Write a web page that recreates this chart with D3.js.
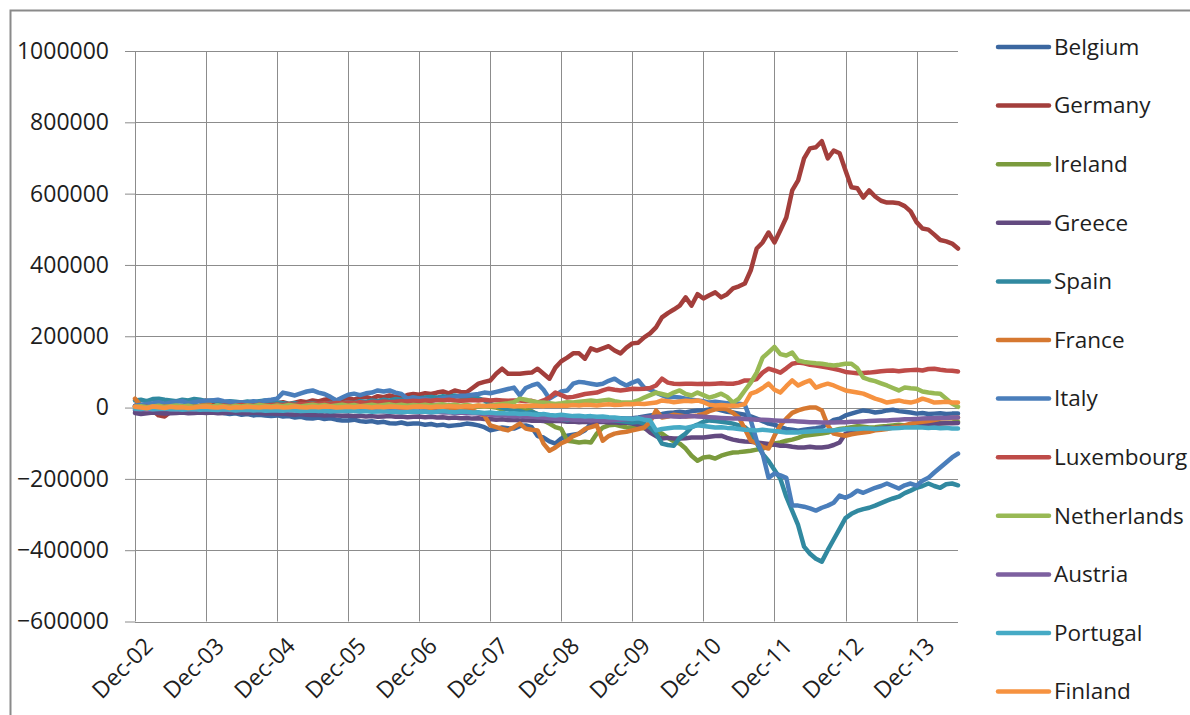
<!DOCTYPE html>
<html lang="en">
<head>
<meta charset="UTF-8">
<title>TARGET2 balances</title>
<script src="https://d3js.org/d3.v7.min.js"></script>
<style>
  body { margin: 0; background: #fff; }
  svg text { font-family: "Open Sans", sans-serif; fill: #1e1e1e; }
</style>
</head>
<body>
<svg width="1190" height="715"></svg>
<script>
// monthly balances, Dec-02 .. Jul-14, in thousands (x1000 when drawn)
const belgium = [
  -8, -10, -8, -5, -8, -10, -7, -6, -8, -10, -12, -10,
  -12, -14, -12, -15, -18, -16, -20, -18, -22, -20, -22, -24,
  -22, -25, -24, -28, -26, -30, -31, -28, -32, -30, -34, -36,
  -36, -34, -38, -40, -38, -42, -40, -44, -45, -42, -46, -45,
  -45, -48, -46, -50, -48, -52, -50, -48, -45, -47, -50, -55,
  -64, -60, -56, -58, -59, -52, -50, -55, -80, -84, -95, -101,
  -87, -79, -76, -73, -64, -45, -40, -36, -33, -31, -30, -31,
  -30, -28, -25, -22, -20, -18, -15, -14, -12, -14, -10, -8,
  -8, -5, -3, -8, -12, -14, -17, -20, -25, -31, -38, -45,
  -48, -55, -60, -62, -65, -62, -60, -58, -55, -45, -35, -31,
  -22, -17, -12, -8, -10, -14, -12, -8, -6, -10, -12, -14,
  -17, -15, -18, -17, -16, -18, -17, -17
];
const germany = [
  5, 0, 3, -8, -22, -25, -12, -2, 4, 2, 6, 3,
  5, 8, 4, 6, 10, 7, 5, 9, 12, 8, 10, 13,
  12, 15, 10, 14, 18, 15, 20, 17, 22, 25, 20, 24,
  26, 22, 28, 30, 25, 32, 29, 34, 30, 28, 35, 38,
  36, 40, 38, 42, 45, 40, 48, 44, 43, 55, 67, 72,
  76, 95, 109, 95, 95, 95, 97, 98, 109, 95, 81, 112,
  130, 140, 152, 152, 137, 166, 160, 166, 172, 160, 152, 168,
  180, 182, 197, 208, 225, 253, 265, 275, 286, 309, 286, 318,
  306, 315, 323, 309, 318, 334, 340, 348, 385, 446, 463, 491,
  463, 497, 533, 609, 637, 699, 727, 730, 747, 699, 721, 713,
  665, 618, 615, 589, 609, 592, 580, 575, 575, 573, 565, 550,
  520, 502, 499, 485, 470, 466, 460, 446
];
const ireland = [
  2, 5, 3, 0, 2, 4, 1, 3, 5, 2, 0, 3,
  5, 3, 2, 4, 6, 3, 5, 2, 4, 6, 3, 5,
  4, 6, 3, 5, 7, 4, 6, 5, 3, 6, 8, 5,
  6, 4, 7, 5, 8, 6, 4, 7, 5, 8, 6, 9,
  7, 5, 8, 6, 4, 7, 5, 3, 6, 4, 2, 5,
  2, 0, -5, -3, -2, 2, -5, -10, -22, -36, -45, -55,
  -60, -93, -95, -98, -96, -98, -73, -56, -50, -48, -52, -55,
  -56, -56, -58, -62, -66, -73, -85, -95, -101, -115, -135, -149,
  -140, -138, -143, -135, -130, -126, -125, -123, -121, -118, -115, -108,
  -101, -98, -93, -90, -85, -79, -77, -75, -73, -70, -64, -60,
  -58, -55, -52, -54, -56, -55, -53, -52, -50, -48, -50, -49,
  -48, -47, -46, -45, -44, -43, -42, -40
];
const greece = [
  -15, -18, -16, -14, -15, -17, -16, -15, -14, -16, -15, -14,
  -15, -14, -16, -15, -13, -14, -15, -16, -14, -15, -17, -16,
  -18, -17, -19, -20, -18, -20, -21, -20, -22, -21, -22, -23,
  -22, -24, -23, -25, -24, -26, -25, -24, -26, -25, -27, -26,
  -25, -27, -26, -28, -27, -29, -28, -30, -29, -31, -30, -32,
  -32, -34, -33, -35, -34, -36, -35, -37, -36, -38, -37, -38,
  -38, -40, -39, -41, -40, -42, -41, -40, -42, -41, -43, -42,
  -45, -48, -56, -70, -80, -87, -85, -87, -87, -86, -84, -84,
  -84, -82, -80, -79, -85, -90, -93, -95, -96, -98, -100, -102,
  -104, -107, -107, -110, -112, -112, -110, -112, -112, -110, -105, -98,
  -73, -70, -68, -65, -63, -60, -58, -56, -55, -53, -52, -50,
  -50, -48, -47, -46, -45, -44, -44, -43
];
const spain = [
  20, 22, 18, 24, 25, 22, 20, 18, 22, 20, 24, 22,
  18, 20, 17, 15, 18, 16, 14, 17, 15, 18, 20, 16,
  14, 12, 10, 12, 8, 10, 12, 9, 11, 13, 10, 12,
  15, 13, 18, 16, 20, 18, 22, 20, 24, 22, 25, 28,
  26, 28, 30, 28, 32, 30, 34, 30, 28, 30, 26, 20,
  10, 5, 0, -5, -8, -10, -15, -12, -18, -20, -25, -30,
  -32, -35, -30, -28, -33, -35, -30, -32, -34, -36, -38, -40,
  -42, -40, -45, -56, -73, -101, -105, -107, -85, -73, -55, -48,
  -40, -36, -38, -40, -42, -45, -50, -55, -70, -100, -130, -150,
  -175, -200, -250, -290, -330, -390, -410, -424, -432, -400, -370, -340,
  -310, -298, -290, -285, -281, -275, -268, -261, -255, -250, -240, -233,
  -225, -220, -213, -220, -225, -215, -213, -218
];
const france = [
  25, 5, 2, -3, 0, 4, -2, 0, 3, -1, 2, 5,
  20, 3, 0, -2, 2, 0, -3, 1, 0, 2, -1, 3,
  8, 2, 0, -2, 1, 3, 0, -2, 1, 0, 2, 0,
  4, 0, -2, 1, 0, -3, -1, 2, 0, -2, 1, 0,
  2, -1, 0, -3, -2, 0, -4, -2, -5, -8, -15, -22,
  -50, -55, -60, -64, -55, -45, -59, -62, -64, -101, -121, -112,
  -100, -93, -80, -73, -60, -55, -50, -93, -80, -73, -70, -68,
  -64, -60, -56, -40, -8, -28, -25, -20, -22, -25, -24, -22,
  -18, -10, -5, -3, -5, -15, -28, -60, -93, -100, -110, -115,
  -79, -50, -31, -15, -8, -3, 0, 0, -8, -50, -73, -76,
  -79, -75, -72, -70, -68, -64, -62, -60, -56, -54, -50, -45,
  -42, -40, -38, -35, -31, -30, -29, -28
];
const italy = [
  5, 8, 10, 12, 15, 10, 14, 16, 18, 12, 15, 18,
  20, 20, 22, 18, 16, 14, 15, 14, 18, 15, 20, 22,
  25, 42, 38, 34, 40, 45, 48, 42, 38, 30, 20, 28,
  36, 39, 35, 40, 42, 48, 45, 48, 42, 38, 25, 28,
  25, 24, 20, 22, 26, 28, 30, 33, 34, 36, 38, 42,
  40, 44, 48, 52, 56, 34, 55, 62, 67, 50, 25, 35,
  45, 48, 67, 72, 70, 67, 64, 67, 75, 81, 70, 62,
  70, 76, 56, 50, 42, 35, 28, 30, 28, 25, 22, 20,
  18, 14, 16, 14, 12, 10, 11, 8, -36, -93, -129, -197,
  -185, -190, -197, -275, -275, -278, -283, -289, -281, -275, -267, -247,
  -253, -245, -233, -239, -232, -225, -220, -213, -220, -227, -218, -213,
  -219, -205, -197, -182, -168, -154, -140, -129
];
const luxembourg = [
  3, 0, 2, -2, 0, 3, 2, 0, 1, 3, 2, 4,
  5, 3, 4, 6, 4, 5, 7, 6, 5, 8, 6, 7,
  8, 7, 9, 8, 10, 9, 11, 10, 12, 11, 13, 12,
  14, 12, 15, 13, 16, 14, 17, 15, 16, 18, 17, 19,
  18, 20, 19, 21, 20, 22, 20, 19, 20, 21, 20, 22,
  20, 21, 20, 19, 20, 20, 18, 19, 14, 20, 28, 42,
  35, 28, 30, 34, 38, 40, 42, 48, 53, 50, 48, 50,
  53, 52, 53, 55, 62, 81, 70, 67, 66, 67, 67, 66,
  67, 66, 67, 68, 67, 67, 70, 76, 76, 80, 98, 109,
  104, 98, 110, 123, 126, 124, 120, 118, 115, 112, 109, 105,
  100, 98, 96, 97, 98, 100, 102, 103, 104, 102, 104, 105,
  106, 104, 108, 109, 106, 104, 103, 101
];
const netherlands = [
  2, 4, 1, 3, 5, 2, 4, 6, 3, 5, 2, 4,
  5, 3, 6, 4, 2, 5, 3, 6, 4, 7, 5, 3,
  6, 4, 7, 5, 3, 6, 8, 5, 7, 4, 6, 8,
  5, 7, 4, 6, 8, 5, 7, 9, 6, 8, 5, 7,
  6, 8, 5, 7, 9, 6, 8, 5, 7, 4, 6, 3,
  5, 8, 10, 12, 15, 25, 22, 18, 15, 14, 12, 10,
  12, 15, 14, 16, 18, 20, 18, 20, 22, 18, 15, 14,
  15, 20, 28, 35, 42, 38, 34, 42, 48, 38, 34, 42,
  35, 28, 33, 39, 30, 14, 25, 48, 70, 98, 140, 155,
  170, 150, 146, 154, 132, 128, 126, 124, 123, 120, 118, 120,
  123, 123, 110, 84, 78, 74, 68, 62, 55, 48, 56, 54,
  53, 45, 42, 40, 39, 25, 11, 2
];
const austria = [
  -5, -4, -6, -5, -3, -4, -5, -6, -4, -5, -6, -5,
  -6, -5, -4, -6, -7, -5, -6, -7, -6, -5, -7, -6,
  -7, -6, -8, -7, -6, -8, -7, -9, -8, -7, -9, -8,
  -9, -8, -10, -9, -8, -10, -11, -10, -9, -11, -10, -12,
  -11, -12, -13, -12, -14, -13, -15, -14, -16, -15, -17, -18,
  -20, -22, -21, -23, -25, -24, -26, -25, -27, -28, -30, -32,
  -33, -32, -34, -35, -34, -36, -35, -37, -36, -35, -34, -33,
  -32, -30, -28, -27, -26, -25, -24, -25, -26, -25, -24, -25,
  -26, -27, -28, -29, -30, -31, -31, -32, -33, -34, -34, -35,
  -36, -37, -38, -38, -39, -40, -41, -41, -42, -42, -42, -41,
  -41, -40, -40, -39, -38, -37, -36, -36, -35, -34, -33, -33,
  -32, -31, -30, -30, -29, -29, -28, -28
];
const portugal = [
  -3, -4, -2, -5, -4, -3, -5, -4, -6, -5, -4, -6,
  -5, -6, -7, -5, -6, -8, -7, -6, -8, -7, -9, -8,
  -8, -9, -7, -8, -10, -9, -8, -10, -9, -11, -10, -9,
  -10, -9, -11, -10, -12, -11, -10, -12, -11, -13, -12, -11,
  -12, -11, -13, -12, -10, -12, -13, -11, -12, -14, -13, -15,
  -14, -16, -15, -17, -16, -18, -17, -19, -20, -18, -21, -22,
  -20, -22, -24, -23, -25, -24, -26, -25, -27, -28, -30, -31,
  -32, -30, -34, -36, -64, -60, -58, -56, -55, -57, -54, -50,
  -52, -54, -56, -55, -57, -58, -60, -62, -63, -64, -62, -64,
  -66, -68, -70, -69, -70, -68, -67, -66, -65, -64, -64, -62,
  -61, -60, -60, -59, -59, -60, -59, -59, -58, -57, -56, -56,
  -55, -56, -57, -56, -58, -57, -59, -59
];
const finland = [
  2, 0, -2, 3, 1, -1, 2, 0, 1, -1, 0, 2,
  3, 1, 0, 2, -1, 1, 0, 2, 1, 0, 2, 1,
  2, 0, 1, 3, 1, 0, 2, 1, 3, 2, 0, 1,
  2, 1, 3, 2, 0, 2, 1, 3, 2, 1, 0, 2,
  3, 2, 1, 3, 2, 4, 3, 2, 4, 3, 5, 4,
  5, 4, 6, 5, 3, 5, 4, 6, 5, 4, 6, 5,
  6, 5, 7, 6, 8, 7, 6, 8, 9, 7, 8, 10,
  9, 11, 10, 12, 14, 20, 18, 15, 17, 19, 18, 20,
  15, 8, 6, 7, 6, 5, 6, 10, 39, 45, 55, 67,
  50, 42, 60, 76, 62, 70, 76, 56, 62, 67, 62, 55,
  48, 45, 42, 39, 32, 25, 20, 14, 17, 20, 16, 14,
  18, 25, 20, 14, 15, 16, 14, 14
];

const countries = ["Belgium", "Germany", "Ireland", "Greece", "Spain", "France",
                   "Italy", "Luxembourg", "Netherlands", "Austria", "Portugal", "Finland"];
const seriesValues = [belgium, germany, ireland, greece, spain, france,
                      italy, luxembourg, netherlands, austria, portugal, finland];
const colors = ["#3b67a0", "#a33e3b", "#7b9b3d", "#634a80", "#3189a0", "#d67830",
                "#4a7ebb", "#be4b48", "#98b954", "#7d60a0", "#46aac5", "#f69240"];
const yTicks = [-600000, -400000, -200000, 0, 200000, 400000, 600000, 800000, 1000000];
const UNIT = 1000;

// months Dec-02 .. Jul-14
const months = d3.timeMonth.range(new Date(2002, 11, 1), new Date(2014, 7, 1));
const fmtMonth = d3.timeFormat("%b-%y");
const xTickMonths = months.filter(d => d.getMonth() === 11);

const svg = d3.select("svg");

// chart area border
svg.append("rect")
    .attr("x", 10.5).attr("y", 10.5)
    .attr("width", 1200).attr("height", 720)
    .attr("fill", "none")
    .attr("stroke", "#8a8a8a")
    .attr("stroke-width", 2);

const x = d3.scalePoint().domain(months.map(fmtMonth)).range([135, 958]);
const y = d3.scaleLinear().domain([-600000, 1000000]).range([621.5, 51]);

// left axis (ticks + labels)
svg.append("g")
    .attr("transform", "translate(135,0)")
    .call(d3.axisLeft(y).tickValues(yTicks).tickSize(10).tickPadding(16).tickFormat(d3.format("d")))
    .call(g => g.select(".domain").remove())
    .call(g => g.selectAll(".tick line").attr("stroke", "#8c8c8c"))
    .call(g => g.selectAll(".tick text")
        .attr("font-family", "Open Sans").attr("font-size", 23).attr("fill", "#1e1e1e"));

// horizontal grid
svg.append("g")
    .selectAll("line")
    .data(yTicks)
    .join("line")
    .attr("x1", 135).attr("x2", 958)
    .attr("y1", d => Math.round(y(d)) + 0.5).attr("y2", d => Math.round(y(d)) + 0.5)
    .attr("stroke", "#8c8c8c");

// vertical grid at each December
svg.append("g")
    .selectAll("line")
    .data(xTickMonths)
    .join("line")
    .attr("x1", d => Math.round(x(fmtMonth(d))) + 0.5)
    .attr("x2", d => Math.round(x(fmtMonth(d))) + 0.5)
    .attr("y1", y(1000000)).attr("y2", y(-600000))
    .attr("stroke", "#8c8c8c");

// x labels
svg.append("g")
    .selectAll("text")
    .data(xTickMonths)
    .join("text")
    .attr("transform", d => "translate(" + (x(fmtMonth(d)) + 8) + ",636) rotate(-45)")
    .attr("text-anchor", "end")
    .attr("dy", "0.7em")
    .attr("font-size", 23)
    .text(d => fmtMonth(d));

// series
const line = d3.line()
    .x((d, i) => x(fmtMonth(months[i])))
    .y(d => y(d * UNIT));

svg.append("g")
    .selectAll("path")
    .data(seriesValues)
    .join("path")
    .attr("d", d => line(d))
    .attr("fill", "none")
    .attr("stroke", (d, i) => colors[i])
    .attr("stroke-width", 4.5)
    .attr("stroke-linejoin", "round")
    .attr("stroke-linecap", "round");

// legend
const legend = svg.append("g")
    .selectAll("g")
    .data(countries)
    .join("g")
    .attr("transform", (d, i) => "translate(0," + (47 + i * 58.6) + ")");

legend.append("line")
    .attr("x1", 998).attr("x2", 1049)
    .attr("stroke", (d, i) => colors[i])
    .attr("stroke-width", 4.5)
    .attr("stroke-linecap", "round");

legend.append("text")
    .attr("x", 1054)
    .attr("dy", "0.35em")
    .attr("font-size", 22.5)
    .text(d => d);
</script>
</body>
</html>
